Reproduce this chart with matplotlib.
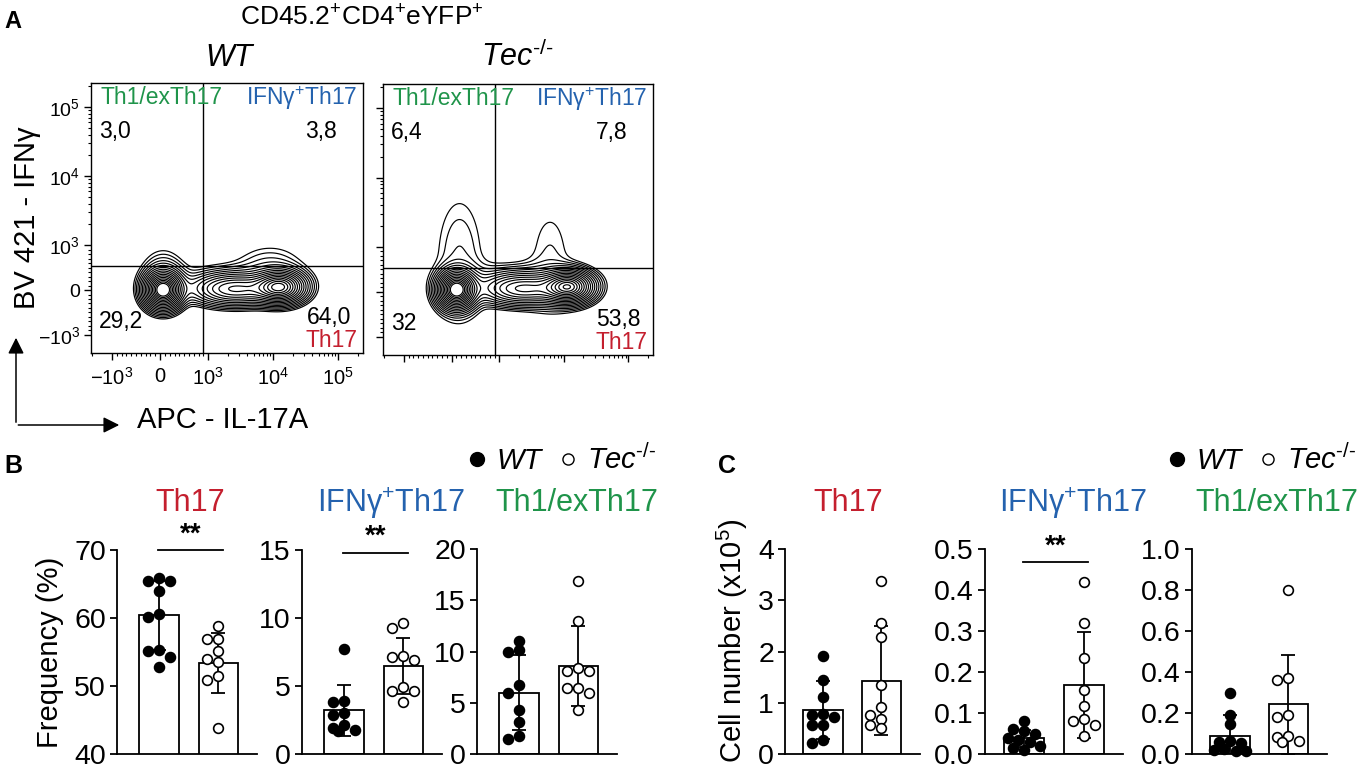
import numpy as np
import matplotlib
matplotlib.use('Agg')
import matplotlib.pyplot as plt
from matplotlib.scale import SymmetricalLogTransform
from matplotlib.ticker import FixedLocator, FixedFormatter, NullFormatter
from matplotlib.lines import Line2D
from matplotlib.patches import FancyArrowPatch

plt.rcParams['font.family'] = ['Liberation Sans', 'DejaVu Sans']
plt.rcParams['mathtext.fontset'] = 'custom'
plt.rcParams['mathtext.rm'] = 'Liberation Sans'
plt.rcParams['mathtext.it'] = 'Liberation Sans:italic'
plt.rcParams['mathtext.bf'] = 'Liberation Sans:bold'

# ------------------------------------------------------------------ data
RED, BLUE, GREEN = '#c41f2e', '#2462ae', '#1f944a'

# flow plots (panel A)
flow_ticks = [-1e3, 0, 1e3, 1e4, 1e5]
flow_ticklabels = [r'$\mathregular{-10^3}$', '0', r'$\mathregular{10^3}$',
                   r'$\mathregular{10^4}$', r'$\mathregular{10^5}$']
flow_xlim = (-2100, 2.4e5)
flow_ylim = (-1830, 2.24e5)
gate_x = 900      # IL-17A gate
gate_y = 535      # IFNg gate
quad_wt = ['3,0', '3,8', '29,2', '64,0']
quad_tec = ['6,4', '7,8', '32', '53,8']

# cell populations: centre (fluorescence units), spread (decades), weight
wt_pop_x = [62, 12770, 2590, 62, 9000, 1450]
wt_pop_y = [0, 67, 22, 430, 520, 270]
wt_pop_sx = [0.16, 0.215, 0.37, 0.2, 0.34, 0.62]
wt_pop_sy = [0.15, 0.13, 0.13, 0.21, 0.21, 0.17]
wt_pop_w = [1.0, 0.75, 0.45, 0.05, 0.045, 0.02]

tec_pop_x = [104, 11900, 2330, 166, 6100, 1900]
tec_pop_y = [45, 111, 67, 720, 720, 270]
tec_pop_sx = [0.16, 0.215, 0.37, 0.26, 0.24, 0.62]
tec_pop_sy = [0.15, 0.13, 0.13, 0.65, 0.58, 0.17]
tec_pop_w = [1.0, 0.8, 0.45, 0.045, 0.032, 0.04]

# panel B: frequency (%)
b_th17_wt = [65.9, 65.5, 65.4, 64.0, 60.2, 60.6, 55.3, 55.2, 54.3, 52.8]
b_th17_tec = [58.8, 56.9, 56.9, 55.1, 53.6, 53.9, 51.4, 50.9, 43.8]
b_th17_mean = [60.4, 53.4]
b_th17_sd = [5.1, 4.4]
b_ifn_wt = [7.7, 3.9, 3.8, 3.0, 2.9, 2.1, 1.9, 1.8, 1.7]
b_ifn_tec = [9.6, 9.3, 7.2, 6.9, 7.1, 4.6, 4.9, 4.6, 3.8]
b_ifn_mean = [3.2, 6.45]
b_ifn_sd = [1.85, 2.05]
b_ex_wt = [10.1, 10.0, 11.0, 6.7, 6.0, 4.25, 3.1, 1.45, 1.77]
b_ex_tec = [16.85, 12.95, 8.4, 8.05, 8.05, 6.4, 6.4, 5.96, 4.3]
b_ex_mean = [6.0, 8.55]
b_ex_sd = [3.65, 3.9]

# panel C: cell number (x10^5)
c_th17_wt = [1.92, 1.45, 1.11, 0.79, 0.77, 0.72, 0.56, 0.56, 0.21, 0.27]
c_th17_tec = [3.37, 2.55, 2.29, 1.35, 0.92, 0.68, 0.76, 0.50, 0.56]
c_th17_mean = [0.86, 1.43]
c_th17_sd = [0.56, 1.06]
c_ifn_wt = [0.08, 0.06, 0.055, 0.05, 0.04, 0.035, 0.03, 0.02, 0.015, 0.01]
c_ifn_tec = [0.42, 0.32, 0.235, 0.157, 0.116, 0.08, 0.086, 0.045, 0.07]
c_ifn_mean = [0.038, 0.168]
c_ifn_sd = [0.02, 0.13]
c_ex_wt = [0.30, 0.19, 0.145, 0.065, 0.055, 0.06, 0.025, 0.02, 0.015, 0.015]
c_ex_tec = [0.80, 0.37, 0.36, 0.19, 0.18, 0.09, 0.085, 0.06, 0.065]
c_ex_mean = [0.09, 0.242]
c_ex_sd = [0.10, 0.24]

subset_titles = ['Th17', 'IFNγ$^{+}$Th17', 'Th1/exTh17']
subset_colors = [RED, BLUE, GREEN]
KO = r'Tec$^{\text{-/-}}$'

# ------------------------------------------------------------------ figure
W, H = 1362, 770
fig = plt.figure(figsize=(W / 100, H / 100), dpi=100)


def axes_px(x0, y0, x1, y1):
    return fig.add_axes([x0 / W, 1 - y1 / H, (x1 - x0) / W, (y1 - y0) / H])


def ftext(x, y, s, **kw):
    return fig.text(x / W, 1 - y / H, s, **kw)


# ------------------------------------------------------------------ panel A
tx = SymmetricalLogTransform(10, 1000, 0.74 * 0.9)
ty = SymmetricalLogTransform(10, 1000, 0.65 * 0.9)

minor_ticks = list(np.arange(-900, 1000, 100)) + [-2e3] + \
    [k * 10 ** d for d in (3, 4) for k in range(2, 10)] + [2e5]


def flow_plot(box, px, py, psx, psy, pw, quad, label_ticks):
    ax = axes_px(*box)
    ax.set_xscale('symlog', linthresh=1000, linscale=0.74 * 0.9)
    ax.set_yscale('symlog', linthresh=1000, linscale=0.65 * 0.9)
    ax.set_xlim(flow_xlim)
    ax.set_ylim(flow_ylim)
    ux0, ux1 = tx.transform(np.array(flow_xlim)) / 1000
    uy0, uy1 = ty.transform(np.array(flow_ylim)) / 1000
    gx = np.linspace(ux0, ux1, 500)
    gy = np.linspace(uy0, uy1, 500)
    UX, UY = np.meshgrid(gx, gy)
    cx = tx.transform(np.array(px, float)) / 1000
    cy = ty.transform(np.array(py, float)) / 1000
    Z = np.zeros_like(UX)
    for a, b, sa, sb, w in zip(cx, cy, psx, psy, pw):
        Z += w * np.exp(-((UX - a) ** 2 / (2 * sa ** 2) + (UY - b) ** 2 / (2 * sb ** 2)))
    X = tx.inverted().transform(UX.ravel() * 1000).reshape(UX.shape)
    Y = ty.inverted().transform(UY.ravel() * 1000).reshape(UY.shape)
    t = np.linspace(2.8, 0.6, 17)
    levels = Z.max() * np.exp(-t ** 2 / 2)
    ax.contour(X, Y, Z, levels=levels, colors='black', linewidths=0.85)
    ax.axvline(gate_x, color='black', lw=1.0)
    ax.axhline(gate_y, color='black', lw=1.0)
    for s in ax.spines.values():
        s.set_linewidth(1.0)
    for axis in (ax.xaxis, ax.yaxis):
        axis.set_major_locator(FixedLocator(flow_ticks))
        axis.set_minor_locator(FixedLocator(minor_ticks))
        axis.set_minor_formatter(NullFormatter())
    if label_ticks:
        ax.xaxis.set_major_formatter(FixedFormatter(flow_ticklabels))
        ax.yaxis.set_major_formatter(FixedFormatter(flow_ticklabels))
    else:
        ax.xaxis.set_major_formatter(NullFormatter())
        ax.yaxis.set_major_formatter(NullFormatter())
    ax.tick_params(which='major', direction='out', length=5, width=1.0,
                   labelsize=14, pad=3)
    ax.tick_params(which='minor', direction='out', length=2.5, width=0.8)
    ax.tick_params(axis='x', which='major', labelsize=14.5, pad=5)
    kw = dict(transform=ax.transAxes, fontsize=16.5)
    ax.text(0.035, 0.945, 'Th1/exTh17', color=GREEN, ha='left', va='center', **kw)
    ax.text(0.98, 0.945, 'IFNγ$^{+}$Th17', color=BLUE, ha='right', va='center', **kw)
    ax.text(0.03, 0.82, quad[0], ha='left', va='center', **kw)
    ax.text(0.905, 0.82, quad[1], ha='right', va='center', **kw)
    ax.text(0.03, 0.118, quad[2], ha='left', va='center', **kw)
    ax.text(0.955, 0.13, quad[3], ha='right', va='center', **kw)
    ax.text(0.978, 0.045, 'Th17', color=RED, ha='right', va='center', **kw)
    return ax


flow_plot((91, 83, 363, 353), wt_pop_x, wt_pop_y, wt_pop_sx, wt_pop_sy, wt_pop_w,
          quad_wt, True)
flow_plot((383, 84, 653, 355), tec_pop_x, tec_pop_y, tec_pop_sx, tec_pop_sy,
          tec_pop_w, quad_tec, False)

ftext(4, 28, 'A', fontsize=17, fontweight='bold', ha='left', va='baseline')
ftext(362, 26, r'CD45.2$^{+}$CD4$^{+}$eYFP$^{+}$', fontsize=19, ha='center',
      va='baseline')
ftext(229, 66, 'WT', fontsize=22, style='italic', ha='center', va='baseline')
ftext(517, 66, KO, fontsize=22, style='italic', ha='center', va='baseline')
ftext(27, 218, 'BV 421 - IFNγ', fontsize=21, rotation=90, ha='center',
      va='center')
ftext(223, 420, 'APC - IL-17A', fontsize=21, ha='center', va='center')
fig.add_artist(FancyArrowPatch((16 / W, 1 - 425 / H), (16 / W, 1 - 335 / H),
                               transform=fig.transFigure, arrowstyle='-|>',
                               mutation_scale=24, lw=1.1, color='black'))
fig.add_artist(FancyArrowPatch((15.5 / W, 1 - 425 / H), (122 / W, 1 - 425 / H),
                               transform=fig.transFigure, arrowstyle='-|>',
                               mutation_scale=24, lw=1.1, color='black'))

# ------------------------------------------------------------------ bar panels


def swarm_x(ax, xc, vals, diam=10.0):
    vals = np.asarray(vals, float)
    disp = ax.transData.transform(np.column_stack([np.full(len(vals), xc), vals]))
    ys = disp[:, 1]
    x0 = disp[0, 0]
    order = np.argsort(-ys)
    placed = []
    offs = np.zeros(len(vals))
    cands = [0, -11, 11, -6, 6, -16, 16]
    for i in order:
        best, bestd = 0, -1
        for ox in cands:
            d = min([np.hypot(ox - a, ys[i] - b) for a, b in placed] + [1e9])
            if d >= diam * 0.92:
                best = ox
                break
            if d > bestd:
                best, bestd = ox, d
        placed.append((best, ys[i]))
        offs[i] = best
    inv = ax.transData.inverted()
    return inv.transform(np.column_stack([x0 + offs, ys]))[:, 0]


def bar_plot(box, wt, tec, mean, sd, ylim, yticks, ylabels, xlim, sig=None):
    ax = axes_px(*box)
    ax.set_xlim(xlim)
    ax.set_ylim(ylim)
    ax.bar([0, 1], mean, width=0.67, color='white', edgecolor='black',
           linewidth=1.3, zorder=1)
    ax.errorbar([0, 1], mean, yerr=sd, fmt='none', ecolor='black',
                elinewidth=1.3, capsize=5, capthick=1.3, zorder=3)
    xw = swarm_x(ax, 0, wt)
    xt = swarm_x(ax, 1, tec)
    ax.plot(xw, wt, 'o', ms=7.3, mfc='black', mec='black', mew=1.0, zorder=4,
            clip_on=False)
    ax.plot(xt, tec, 'o', ms=7.0, mfc='white', mec='black', mew=1.2, zorder=4,
            clip_on=False)
    for s in ['top', 'right']:
        ax.spines[s].set_visible(False)
    for s in ['left', 'bottom']:
        ax.spines[s].set_linewidth(1.3)
    ax.set_xticks([])
    ax.set_yticks(yticks)
    ax.set_yticklabels(ylabels)
    ax.tick_params(axis='y', direction='out', length=5, width=1.3,
                   labelsize=20.5, pad=3)
    if sig is not None:
        ax.plot([-0.02, 1.08], [sig, sig], color='black', lw=1.3, clip_on=False)
        ax.annotate('**', (0.53, sig), xytext=(0, 2), textcoords='offset points',
                    ha='center', va='bottom', fontsize=20, fontweight='bold')
    return ax


xl_b = (-0.71, 1.65)
xl_c = (-0.65, 1.66)

bar_plot((117, 550, 257, 754), b_th17_wt, b_th17_tec, b_th17_mean, b_th17_sd,
         (40, 70), [40, 50, 60, 70], ['40', '50', '60', '70'], xl_b, sig=70)
bar_plot((302, 550, 442, 754), b_ifn_wt, b_ifn_tec, b_ifn_mean, b_ifn_sd,
         (0, 15), [0, 5, 10, 15], ['0', '5', '10', '15'], xl_b, sig=14.8)
bar_plot((477, 549, 617, 754), b_ex_wt, b_ex_tec, b_ex_mean, b_ex_sd,
         (0, 20), [0, 5, 10, 15, 20], ['0', '5', '10', '15', '20'], xl_b)

bar_plot((785, 549, 920, 754), c_th17_wt, c_th17_tec, c_th17_mean, c_th17_sd,
         (0, 4), [0, 1, 2, 3, 4], ['0', '1', '2', '3', '4'], xl_c)
bar_plot((985, 549, 1123, 754), c_ifn_wt, c_ifn_tec, c_ifn_mean, c_ifn_sd,
         (0, 0.5), [0, 0.1, 0.2, 0.3, 0.4, 0.5],
         ['0.0', '0.1', '0.2', '0.3', '0.4', '0.5'], xl_c, sig=0.468)
bar_plot((1192, 549, 1327, 754), c_ex_wt, c_ex_tec, c_ex_mean, c_ex_sd,
         (0, 1.0), [0, 0.2, 0.4, 0.6, 0.8, 1.0],
         ['0.0', '0.2', '0.4', '0.6', '0.8', '1.0'], xl_c)

# titles
for xc, t, c in zip([190, 391, 577], subset_titles, subset_colors):
    ftext(xc, 503, t, color=c, fontsize=22, ha='center', va='center')
for xc, t, c in zip([848, 1073, 1277], subset_titles, subset_colors):
    ftext(xc, 503, t, color=c, fontsize=22, ha='center', va='center')

ftext(50, 652, 'Frequency (%)', fontsize=21, rotation=90, ha='center', va='center')
ftext(732, 641, r'Cell number (x10$^{5}$)', fontsize=21, rotation=90,
      ha='center', va='center')

ftext(4, 473, 'B', fontsize=18, fontweight='bold', ha='left', va='baseline')
ftext(718, 473, 'C', fontsize=18, fontweight='bold', ha='left', va='baseline')

# legends
handles = [Line2D([], [], ls='none', marker='o', ms=10, mfc='black', mec='black'),
           Line2D([], [], ls='none', marker='o', ms=8, mfc='white', mec='black',
                  mew=1.0)]
labels = ['WT', KO]
for x0 in (467, 1167):
    fig.legend(handles, labels, loc='center left',
               bbox_to_anchor=(x0 / W, 1 - 460 / H), ncol=2, frameon=False,
               borderpad=0, borderaxespad=0, handlelength=0.7,
               handletextpad=0.3, columnspacing=0.55,
               prop={'style': 'italic', 'size': 21})

fig.savefig('out.png', dpi=100)
